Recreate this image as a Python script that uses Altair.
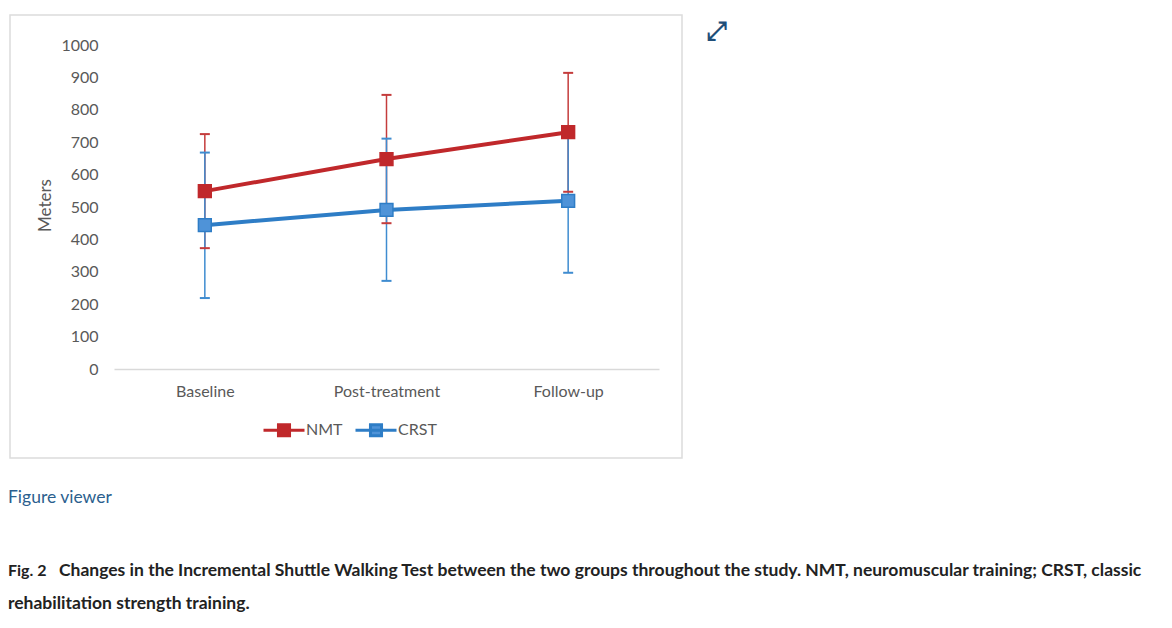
import altair as alt
import pandas as pd

# ---- data ----
categories = ["Baseline", "Post-treatment", "Follow-up"]
series_names = ["NMT", "CRST"]
nmt_mean = [549, 648, 731]
nmt_low = [373, 450, 547]
nmt_high = [725, 846, 914]
crst_mean = [444, 491, 519]
crst_low = [219, 272, 297]
crst_high = [668, 711, 740]
y_ticks = [0, 100, 200, 300, 400, 500, 600, 700, 800, 900, 1000]

caption_label = "Fig. 2"
caption_line1 = ("Changes in the Incremental Shuttle Walking Test between the two groups "
                 "throughout the study. NMT, neuromuscular training; CRST, classic")
caption_line2 = "rehabilitation strength training."
viewer_text = "Figure viewer"

# ---- styles ----
line_colors = ["#C0282B", "#2E7DC6"]
marker_fills = ["#C0282B", "#4F93D8"]
bar_colors = {"NMT": "#C43C3C", "CRST": "#3F8CD0"}
GRAY = "#595959"
FONT = "Lato"

rows = []
for name, means, lows, highs in [("NMT", nmt_mean, nmt_low, nmt_high),
                                 ("CRST", crst_mean, crst_low, crst_high)]:
    for c, m, lo, hi in zip(categories, means, lows, highs):
        rows.append({"phase": c, "series": name, "mean": m, "low": lo, "high": hi})
df = pd.DataFrame(rows)

W, H = 545, 324
PL, PT = 114, 45

x_enc = alt.X(
    "phase:N",
    scale=alt.Scale(type="point", domain=categories, padding=0.5),
    axis=alt.Axis(
        title=None, labelAngle=0, ticks=False, grid=False,
        domainColor="#D9D9D9", domainWidth=1.5,
        labelFont=FONT, labelFontSize=16, labelColor=GRAY, labelPadding=14,
    ),
)
y_scale = alt.Scale(domain=[0, 1000], nice=False, zero=True)
y_axis = alt.Axis(
    values=y_ticks, format="d", domain=False, ticks=False, grid=False,
    labelFont=FONT, labelFontSize=16, labelColor=GRAY, labelPadding=16,
    title="Meters", titleFont=FONT, titleFontSize=17, titleFontWeight="normal",
    titleColor=GRAY, titleAngle=270, titleX=-69, titleY=160,
    titleAlign="center", titleBaseline="middle",
)

stroke_scale = alt.Scale(domain=series_names, range=line_colors)
fill_scale = alt.Scale(domain=series_names, range=marker_fills)
legend_path = "M-1,0L1,0M-0.27,-0.27L0.27,-0.27L0.27,0.27L-0.27,0.27Z"
legend = alt.Legend(
    orient="none", legendX=148, legendY=363, direction="horizontal", title=None,
    symbolType=legend_path, symbolSize=1681, symbolStrokeWidth=3, symbolOpacity=1,
    labelFont=FONT, labelFontSize=16, labelColor=GRAY, labelOffset=0,
    columnPadding=6, padding=0,
)

base = alt.Chart(df)

bars = []
caps = []
for name in series_names:
    sub = base.transform_filter(alt.datum.series == name)
    bars.append(
        sub.mark_rule(color=bar_colors[name], strokeWidth=1.5).encode(
            x=x_enc, y=alt.Y("low:Q", scale=y_scale, axis=y_axis), y2="high:Q"
        )
    )
    caps.append(
        sub.transform_fold(["low", "high"], as_=["end", "val"])
        .mark_tick(color=bar_colors[name], size=10, thickness=2, opacity=1)
        .encode(x=x_enc, y=alt.Y("val:Q", scale=y_scale, axis=y_axis))
    )

lines = base.mark_line(strokeWidth=4).encode(
    x=x_enc,
    y=alt.Y("mean:Q", scale=y_scale, axis=y_axis),
    stroke=alt.Stroke("series:N", scale=stroke_scale, legend=legend),
)
points = base.mark_point(shape="square", filled=True, size=165, opacity=1, strokeWidth=1.5).encode(
    x=x_enc,
    y=alt.Y("mean:Q", scale=y_scale, axis=y_axis),
    fill=alt.Fill("series:N", scale=fill_scale, legend=legend),
    stroke=alt.Stroke("series:N", scale=stroke_scale, legend=legend),
)

one = pd.DataFrame({"k": [0]})
box = alt.Chart(one).mark_rect(fill="transparent", stroke="#DCDCDC", strokeWidth=1.5).encode(
    x=alt.value(10 - PL), x2=alt.value(682 - PL), y=alt.value(15 - PT), y2=alt.value(458 - PT)
)


def txt(s, x, y, size, color, weight="normal", font=FONT, align="left", baseline="alphabetic"):
    return alt.Chart(pd.DataFrame({"t": [s]})).mark_text(
        align=align, baseline=baseline, font=font, fontSize=size, fontWeight=weight, color=color
    ).encode(x=alt.value(x - PL), y=alt.value(y - PT), text="t:N")


texts = [
    txt(viewer_text, 8, 503, 17.5, "#2B5F8E"),
    txt(caption_label, 8, 576, 16, "#222222", weight="bold"),
    txt(caption_line1, 59, 576, 17.5, "#222222", weight="bold"),
    txt(caption_line2, 8, 609, 17.5, "#222222", weight="bold"),
    txt("\u2922", 716, 32, 26, "#1F4E79", weight="bold", font="DejaVu Sans",
        align="center", baseline="middle"),
]

chart = alt.layer(box, *bars, *caps, lines, points, *texts).properties(
    width=W, height=H,
    autosize=alt.AutoSizeParams(type="none"),
    padding={"left": PL, "top": PT, "right": 1172 - PL - W, "bottom": 628 - PT - H},
    background="white",
).configure_view(stroke=None)

chart.save("out.html", embed_options={"renderer": "svg", "actions": False})
